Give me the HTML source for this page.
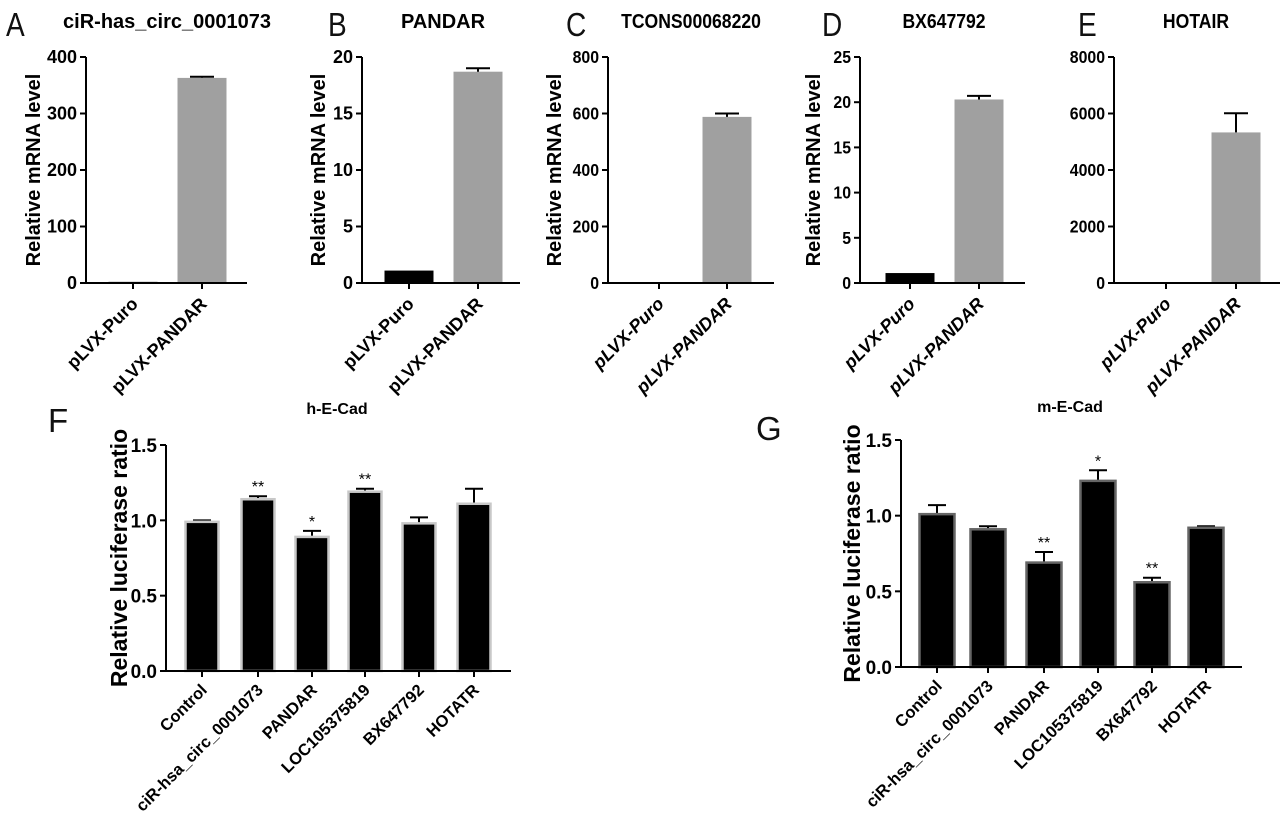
<!DOCTYPE html>
<html><head><meta charset="utf-8"><style>
body{margin:0;background:#fff;}
svg text{font-family:"Liberation Sans",Arial,sans-serif;}
</style></head><body>
<svg id="fig" width="1280" height="817" viewBox="0 0 1280 817" xmlns="http://www.w3.org/2000/svg"></svg>
<script>
// Top panels data
const topPanels = ["A","B","C","D","E"];
const topTitles = ["ciR-has_circ_0001073","PANDAR","TCONS00068220","BX647792","HOTAIR"];
const topCategories = ["pLVX-Puro","pLVX-PANDAR"];
const puroValues = [2, 1.1, 1, 1.1, 1];
const pandarValues = [363, 18.7, 588, 20.3, 5330];
const pandarErrors = [2, 0.3, 12, 0.4, 680];
const topMax = [400, 20, 800, 25, 8000];
const topTicks = [[0,100,200,300,400],[0,5,10,15,20],[0,200,400,600,800],[0,5,10,15,20,25],[0,2000,4000,6000,8000]];
// Bottom panels data
const lucCategories = ["Control","ciR-hsa_circ_0001073","PANDAR","LOC105375819","BX647792","HOTATR"];
const hValues = [0.99, 1.14, 0.89, 1.19, 0.98, 1.11];
const hErrors = [0.01, 0.02, 0.04, 0.02, 0.04, 0.10];
const hStars = ["","**","*","**","",""];
const mValues = [1.01, 0.91, 0.69, 1.23, 0.56, 0.92];
const mErrors = [0.06, 0.02, 0.07, 0.07, 0.03, 0.01];
const mStars = ["","","**","*","**",""];
const lucTicks = [0, 0.5, 1.0, 1.5];

const svg = document.getElementById('fig');
const NS = "http://www.w3.org/2000/svg";
function mk(tag, attrs, txt){
  const e = document.createElementNS(NS, tag);
  for (const k in attrs) e.setAttribute(k, attrs[k]);
  if (txt !== undefined) e.textContent = txt;
  svg.appendChild(e); return e;
}
// layout (not data)
const topLayout = [
  {ax:86, x1:247, c0:133, c1:202, letX:6, titX:167, ytX:40, italic:false, ytitle:true, cond:1},
  {ax:362, x1:520, c0:409, c1:478, letX:328, titX:443, ytX:325, italic:false, ytitle:true, cond:1},
  {ax:608, x1:774, c0:659, c1:727, letX:566, titX:691, ytX:561, italic:true, ytitle:true, cond:0.88},
  {ax:860, x1:1025, c0:910, c1:979, letX:822, titX:944, ytX:820, italic:true, ytitle:true, cond:0.88},
  {ax:1114, x1:1280, c0:1166, c1:1236, letX:1078, titX:1196, ytX:0, italic:true, ytitle:false, cond:0.88}
];
const tTop = 57, tZero = 283, bw = 49;
topPanels.forEach((p, i) => {
  const L = topLayout[i];
  const y = v => tZero - (v / topMax[i]) * (tZero - tTop);
  let e;
  e = mk('text', {x:L.letX, y:36, 'font-size':33, fill:'#111', transform:`translate(${L.letX},0) scale(0.85,1) translate(${-L.letX},0)`}, p);
  
  
  e = mk('text', {x:0, y:0, 'font-size':20, 'font-weight':'bold', 'text-anchor':'middle', transform:`translate(${L.titX},28) scale(${L.cond},1)`}, topTitles[i]);
  
  
  if (L.ytitle) {
    e = mk('text', {x:0, y:0, 'font-size':20, 'font-weight':'bold', 'text-anchor':'middle', transform:`translate(${L.ytX},${(tTop+tZero)/2}) rotate(-90)`}, 'Relative mRNA level');
    
    
  }
  e = mk('rect', {x:L.c0 - bw/2, y:y(puroValues[i]), width:bw, height:tZero - y(puroValues[i]), fill:'#000'});
  
  
  e = mk('rect', {x:L.c1 - bw/2, y:y(pandarValues[i]), width:bw, height:tZero - y(pandarValues[i]), fill:'#a0a0a0'});
  
  
  const ye = y(pandarValues[i] + pandarErrors[i]);
  e = mk('path', {d:`M${L.c1},${y(pandarValues[i])}V${ye}M${L.c1-12},${ye}H${L.c1+12}`, stroke:'#000', 'stroke-width':2, fill:'none'});
  
  
  e = mk('path', {d:`M${L.ax},${tTop}V${tZero}H${L.x1}`, stroke:'#000', 'stroke-width':2, fill:'none'});
  
  
  topTicks[i].forEach(t => {
    mk('path', {d:`M${L.ax-6},${y(t)}H${L.ax}`, stroke:'#000', 'stroke-width':2});
    const tl = mk('text', {x:0, y:0, 'font-size':18, 'font-weight':'bold', 'text-anchor':'end', transform:`translate(${L.ax-9},${y(t)+6}) scale(${L.cond},1)`}, String(t));
    
    
  });
  [L.c0, L.c1].forEach((cx, j) => {
    mk('path', {d:`M${cx},${tZero}V${tZero+6}`, stroke:'#000', 'stroke-width':2});
    const xl = mk('text', {x:0, y:0, 'font-size':18, 'font-weight':'bold', 'text-anchor':'end', 'font-style':L.italic?'italic':'normal', transform:`translate(${cx+6},${tZero+22}) rotate(-45)`}, topCategories[j]);
    
    
  });
});

function lucPanel(o){
  const y = v => o.zero - (v / 1.5) * (o.zero - o.top);
  let e;
  e = mk('text', {x:o.letX, y:o.letY, 'font-size':33, fill:'#111'}, o.letter);
  
  
  e = mk('text', {x:o.titX, y:o.titY, 'font-size':16, 'font-weight':'bold', 'text-anchor':'middle'}, o.title);
  
  
  e = mk('text', {x:0, y:0, 'font-size':23, 'font-weight':'bold', 'text-anchor':'middle', transform:`translate(${o.ytX},${(o.top+o.zero)/2}) rotate(-90)`}, 'Relative luciferase ratio');
  
  
  o.vals.forEach((v, i) => {
    const cx = o.centers[i];
    const yt = y(v + o.errs[i]);
    e = mk('path', {d:`M${cx},${y(v)}V${yt}M${cx-9},${yt}H${cx+9}`, stroke:'#000', 'stroke-width':2, fill:'none'});
    
    
    e = mk('rect', {x:cx - o.bw/2, y:y(v), width:o.bw, height:o.zero - y(v), fill:'#000', stroke:o.outline, 'stroke-width':2.5});
    
    
    if (o.stars[i]) {
      e = mk('text', {x:cx, y:yt - 4, 'font-size':16, 'text-anchor':'middle'}, o.stars[i]);
      
      
    }
    mk('path', {d:`M${cx},${o.zero}V${o.zero+6}`, stroke:'#000', 'stroke-width':2});
    const xl = mk('text', {x:0, y:0, 'font-size':16.5, 'font-weight':'bold', 'text-anchor':'end', transform:`translate(${cx+6},${o.zero+20}) rotate(-45)`}, lucCategories[i]);
    
    
  });
  e = mk('path', {d:`M${o.ax},${o.top}V${o.zero}H${o.x1}`, stroke:'#000', 'stroke-width':2, fill:'none'});
  
  
  lucTicks.forEach(t => {
    mk('path', {d:`M${o.ax-6},${y(t)}H${o.ax}`, stroke:'#000', 'stroke-width':2});
    const tl = mk('text', {x:o.ax-9, y:y(t)+7, 'font-size':19, 'font-weight':'bold', 'text-anchor':'end'}, t.toFixed(1));
    
    
  });
}
lucPanel({letter:'F', letX:48, letY:432, title:'h-E-Cad', titX:337, titY:414, ytX:127, ax:166, x1:511, top:445, zero:671,
  centers:[202,258,312,365,419,474], bw:33, outline:'#c8c8c8', vals:hValues, errs:hErrors, stars:hStars});
lucPanel({letter:'G', letX:756, letY:440, title:'m-E-Cad', titX:1070, titY:412, ytX:860, ax:901, x1:1242, top:440, zero:667,
  centers:[937,988,1044,1098,1152,1206], bw:35, outline:'#666', vals:mValues, errs:mErrors, stars:mStars});
</script>
</body></html>
